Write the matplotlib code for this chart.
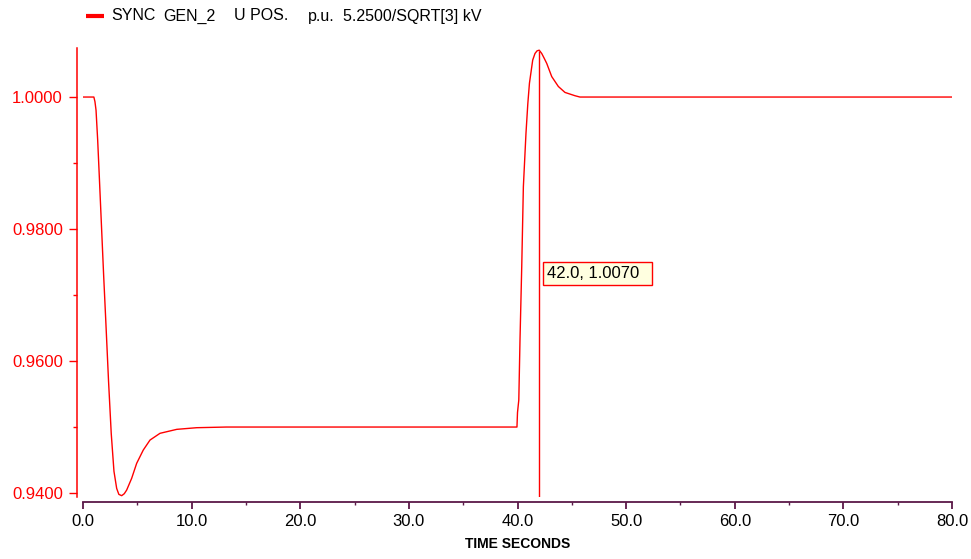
import matplotlib
matplotlib.use("Agg")
import matplotlib.pyplot as plt
from matplotlib.ticker import MultipleLocator, FormatStrFormatter
from matplotlib.lines import Line2D

# ---- data ----
time_s = [0.0, 1.0, 1.1, 1.2, 1.35, 1.5, 1.7, 1.9, 2.1, 2.35, 2.6, 2.85, 3.10, 3.30,
          3.56, 3.80, 4.02, 4.48, 4.94, 5.55, 6.17, 7.09, 8.63, 10.47, 13.2,
          39.95, 40.0, 40.12, 40.23, 40.39, 40.54, 40.78, 40.95, 41.1,
          41.4, 41.61, 41.8, 42.0, 42.23, 42.45, 42.69, 43.15, 43.76, 44.37,
          45.29, 45.75, 80.0]
u_pos = [1.0, 1.0, 0.9993, 0.9980, 0.9935, 0.9880, 0.9805, 0.9730, 0.9660, 0.9570,
         0.9490, 0.9433, 0.9407, 0.9398, 0.93960, 0.9399, 0.94045, 0.94223, 0.9445,
         0.94652, 0.94803, 0.94905, 0.94965, 0.94990, 0.9500,
         0.9500, 0.9522, 0.9541, 0.9632, 0.9743, 0.9864, 0.9945, 0.9990, 1.0021,
         1.0056, 1.0066, 1.0070, 1.0071, 1.0066, 1.0059, 1.0051, 1.0031,
         1.0016, 1.0007, 1.0002, 1.0000, 1.0000]
cursor_t = 42.0
cursor_v = 1.0070
legend_parts = ["SYNC", "GEN_2", "U POS.", "p.u.", "5.2500/SQRT[3] kV"]
x_label = "TIME SECONDS"

W, H = 971, 559
plt.rcParams['font.family'] = ['Liberation Sans', 'DejaVu Sans']
fig = plt.figure(figsize=(W / 100, H / 100), dpi=100)
ax = fig.add_axes([83 / W, 1 - 497 / H, 869 / W, 448.8 / H])

ymin, ymax = 0.9394, 1.0074
ax.set_xlim(0, 80)
ax.set_ylim(ymin, ymax)

red = '#ff0000'
purple = '#5a1848'
ax.plot(time_s, u_pos, color=red, lw=1.0)
ax.vlines(cursor_t, ymin, cursor_v, color=red, lw=1.0)

ax.text(42.69, 0.97333, f"{cursor_t:.1f}, {cursor_v:.4f}  ", fontsize=12,
        va='center', ha='left', color='black',
        bbox=dict(boxstyle='square,pad=0.24', fc='#ffffe0', ec=red, lw=1.0))

for s in ['top', 'right']:
    ax.spines[s].set_visible(False)
ax.spines['left'].set_position(('outward', 4.3))
ax.spines['bottom'].set_position(('outward', 3.6))
ax.spines['left'].set_color(red)
ax.spines['left'].set_linewidth(1.1)
ax.spines['bottom'].set_color(purple)
ax.spines['bottom'].set_linewidth(1.3)

ax.yaxis.set_major_locator(MultipleLocator(0.02))
ax.yaxis.set_minor_locator(MultipleLocator(0.01))
ax.yaxis.set_major_formatter(FormatStrFormatter('%.4f'))
ax.xaxis.set_major_locator(MultipleLocator(10))
ax.xaxis.set_minor_locator(MultipleLocator(5))
ax.xaxis.set_major_formatter(FormatStrFormatter('%.1f'))

ax.tick_params(axis='y', which='major', length=5.8, width=1.0, color=red,
               labelcolor=red, labelsize=12, pad=4.3)
ax.tick_params(axis='y', which='minor', length=2.9, width=1.0, color=red)
ax.tick_params(axis='x', which='major', length=5.0, width=1.3, color=purple,
               labelcolor='black', labelsize=12, pad=3.5)
ax.tick_params(axis='x', which='minor', length=2.5, width=1.0, color=purple)

fig.text(517.5 / W, 1 - 544 / H, x_label, ha='center', va='center',
         fontsize=10, fontweight='bold', color='black')

# legend
fig.add_artist(Line2D([86 / W, 104 / W], [1 - 16 / H, 1 - 16 / H],
                      color=red, lw=3.0, solid_capstyle='butt',
                      transform=fig.transFigure))
xs = [111, 163, 234, 308, 343]
for x, s in zip(xs, legend_parts):
    fig.text(x / W, 1 - 16 / H, s, ha='left', va='center', fontsize=11.5, color='black')

fig.savefig('out.png', dpi=100)
